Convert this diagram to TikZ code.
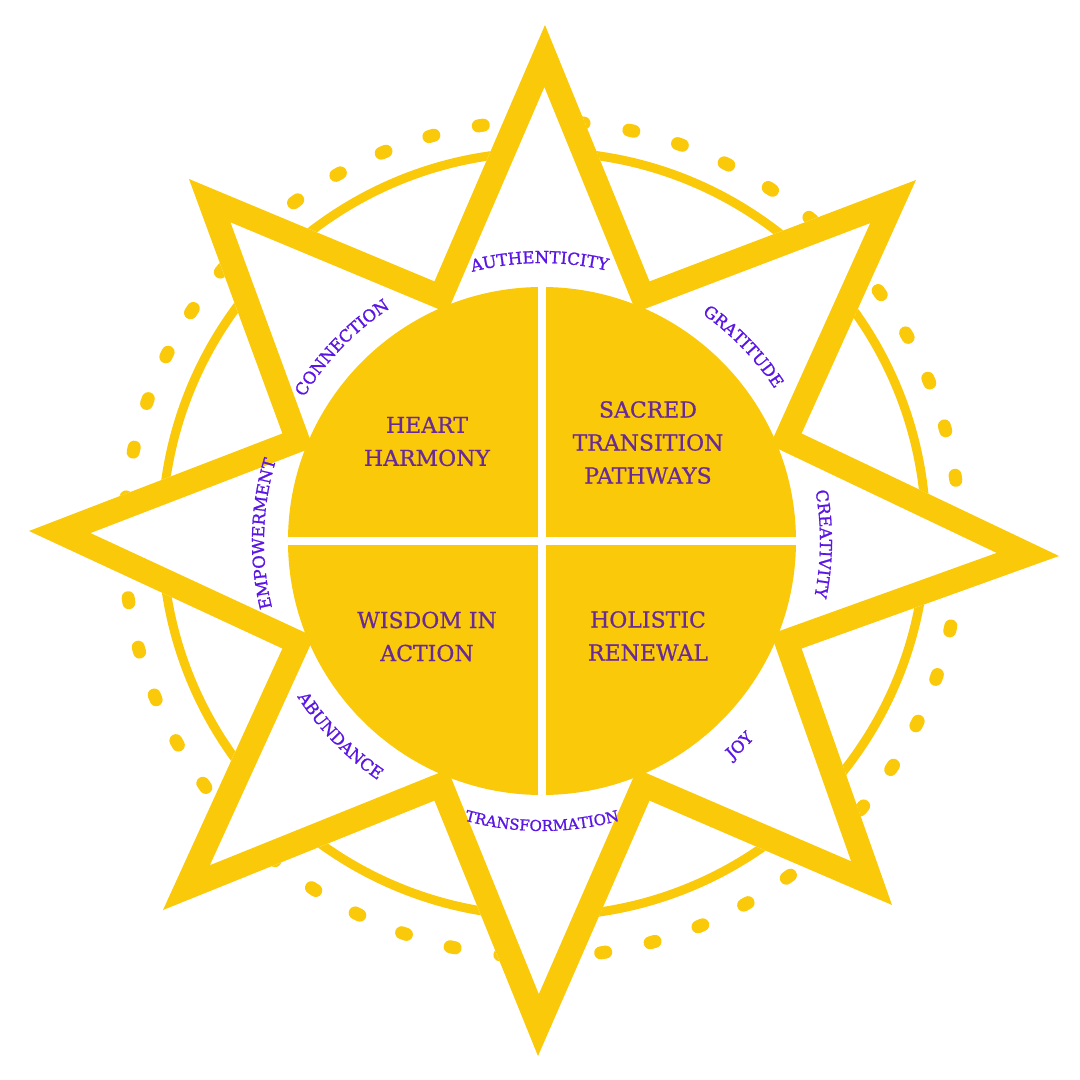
\documentclass[tikz,border=0pt]{standalone}
\usepackage{fontspec}
\setmainfont{DejaVu Serif}
\newfontfamily\quadfont[FakeBold=0.6]{DejaVu Serif}
\newfontfamily\labelfont[FakeBold=1.2]{DejaVu Serif}
\usetikzlibrary{decorations.text}

\definecolor{sunyellow}{RGB}{250,202,10}
\definecolor{quadpurple}{RGB}{106,42,150}
\definecolor{labelviolet}{RGB}{90,22,228}

\tikzset{
  quadtext/.style={text=quadpurple, align=center, font=\quadfont\fontsize{22}{33}\selectfont},
  arclabel/.style 2 args={decorate, decoration={text along path, text align=center,
      text color=labelviolet, text={|\labelfont\fontsize{#1}{#1}\selectfont|#2}}},
  dot/.style={sunyellow, line width=13pt, line cap=round},
}

% star outline, tips and inner corners
\def\sunpath{(3,516) -- (112.5:281) -- (-353,362) -- (157.5:281) -- (-513,10)
  -- (202.5:281) -- (-379,-369) -- (247.5:281) -- (-4,-515) -- (292.5:281)
  -- (350,-364) -- (337.5:281) -- (517,-15) -- (22.5:281) -- (374,361)
  -- (67.5:281) -- cycle}

\newcommand\uplabel[3]{\path[arclabel={#2}{#3}] ({#1+40}:278)
  arc[start angle={#1+40}, end angle={#1-40}, radius=278];}
\newcommand\downlabel[3]{\path[arclabel={#2}{#3}] ({#1-40}:290)
  arc[start angle={#1-40}, end angle={#1+40}, radius=290];}

\begin{document}
\begin{tikzpicture}[x=1pt, y=1pt]
  \useasboundingbox (-542,-539) rectangle (538,541);

  \begin{scope}[shift={(0,2)}]
    \foreach \k [evaluate=\k as \a using 1.5+6.923*\k] in {0,...,51}
      \draw[dot] ({\a-0.35}:418) arc[start angle={\a-0.35}, end angle={\a+0.35}, radius=418];
  \end{scope}
  \draw[sunyellow, line width=9pt] (2,7) circle[radius=382];

  \begin{scope}
    \clip \sunpath;
    \fill[white] \sunpath;
    \draw[sunyellow, line width=48pt, line join=miter] \sunpath;
  \end{scope}

  \fill[sunyellow] (0,0) circle[radius=254];
  \draw[white, line width=8pt] (-254,0) -- (254,0) (0,-254) -- (0,254);

  \node[quadtext] (heart) at (-115,99.5) {HEART\\HARMONY};
  \node[quadtext] (sacred) at (106,98.5) {SACRED\\TRANSITION\\PATHWAYS};
  \node[quadtext] (wisdom) at (-115,-95.5) {WISDOM IN\\ACTION};
  \node[quadtext] (holistic) at (106,-95) {HOLISTIC\\RENEWAL};

  \uplabel{136}{16.5}{CONNECTION}
  \uplabel{90.5}{16.5}{AUTHENTICITY}
  \uplabel{44}{16.5}{GRATITUDE}
  \uplabel{-0.6}{16.5}{CREATIVITY}
  \uplabel{178.5}{16.5}{EMPOWERMENT}
  \downlabel{224}{16.5}{ABUNDANCE}
  \downlabel{-90}{15}{TRANSFORMATION}
  \downlabel{-46}{16.5}{JOY}
\end{tikzpicture}
\end{document}
